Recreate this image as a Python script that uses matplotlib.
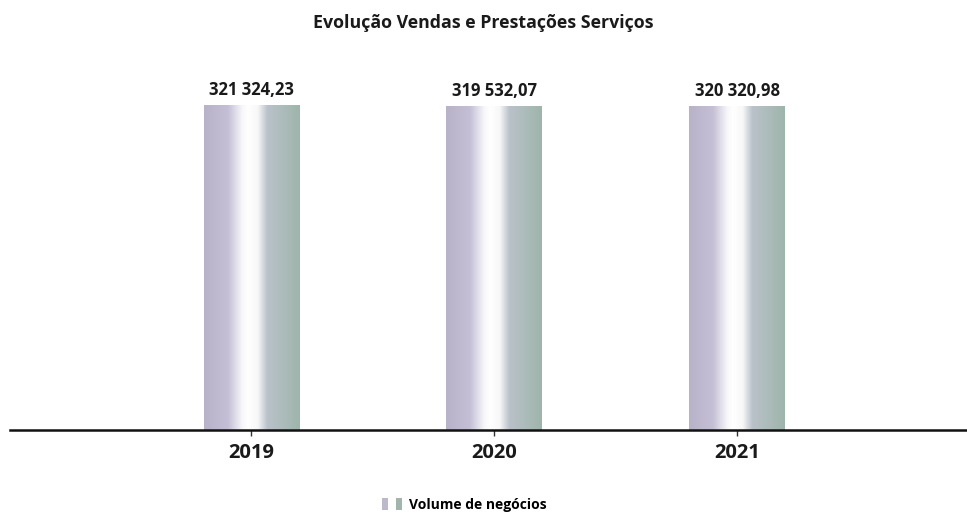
import numpy as np
import matplotlib
matplotlib.use("Agg")
import matplotlib.pyplot as plt
from matplotlib.patches import Patch
from matplotlib.legend_handler import HandlerTuple

plt.rcParams['font.family'] = ['Open Sans', 'DejaVu Sans']

years = ["2019", "2020", "2021"]
volume = [321324.23, 319532.07, 320320.98]
series_name = "Volume de negócios"
title = "Evolução Vendas e Prestações Serviços"

LEFT_COL = (0.74, 0.72, 0.80)
RIGHT_COL = (0.63, 0.71, 0.68)


def fmt_pt(v):
    s = f"{v:,.2f}"
    return s.replace(",", " ").replace(".", ",")


def cylinder_gradient(n=256):
    stops = [
        (0.00, (0.72, 0.70, 0.78)),
        (0.25, (0.77, 0.75, 0.84)),
        (0.40, (0.97, 0.97, 0.98)),
        (0.46, (1.00, 1.00, 1.00)),
        (0.56, (0.97, 0.97, 0.97)),
        (0.66, (0.73, 0.76, 0.79)),
        (1.00, (0.62, 0.71, 0.67)),
    ]
    xs = np.linspace(0, 1, n)
    pos = [s[0] for s in stops]
    rgb = np.zeros((1, n, 3))
    for c in range(3):
        rgb[0, :, c] = np.interp(xs, pos, [s[1][c] for s in stops])
    return rgb


fig = plt.figure(figsize=(9.67, 5.15), dpi=100)
ax = fig.add_axes([0.01, 0.165, 0.99, 0.648])

x = np.arange(len(years))
bars = ax.bar(x, volume, width=0.395, color="none", edgecolor="none")

ax.set_xlim(-0.996, 2.947)
ax.set_ylim(0, 330000)

grad = cylinder_gradient()
for b in bars:
    x0, y0 = b.get_x(), b.get_y()
    w, h = b.get_width(), b.get_height()
    ax.imshow(grad, extent=(x0, x0 + w, y0, y0 + h), aspect="auto",
              interpolation="bilinear", zorder=2)
    ax.text(x0 + w / 2, y0 + h + 6500, fmt_pt(h), ha="center", va="bottom",
            fontsize=12, fontweight="bold", color="#1a1a1a")

for side in ["left", "right", "top"]:
    ax.spines[side].set_visible(False)
ax.spines["bottom"].set_linewidth(1.8)
ax.spines["bottom"].set_color("#111111")
ax.spines["bottom"].set_zorder(3)

ax.set_yticks([])
ax.set_xticks(x)
ax.set_xticklabels(years, fontsize=14.5, fontweight="bold", color="#1a1a1a")
ax.tick_params(axis="x", length=4, width=1, color="#333333", pad=5)

fig.text(0.5, 0.955, title, ha="center", va="center", fontsize=12.8,
         fontweight="bold", color="#1a1a1a")

handle = (Patch(facecolor=LEFT_COL), Patch(facecolor=RIGHT_COL))
fig.legend([handle], [series_name], loc="center", bbox_to_anchor=(0.48, 0.02),
           frameon=False, fontsize=10.5, prop={"weight": "bold"},
           handler_map={tuple: HandlerTuple(ndivide=None, pad=0.6)},
           handlelength=1.4, handleheight=1.0, handletextpad=0.5)

fig.savefig("out.png", dpi=100, facecolor="white")
